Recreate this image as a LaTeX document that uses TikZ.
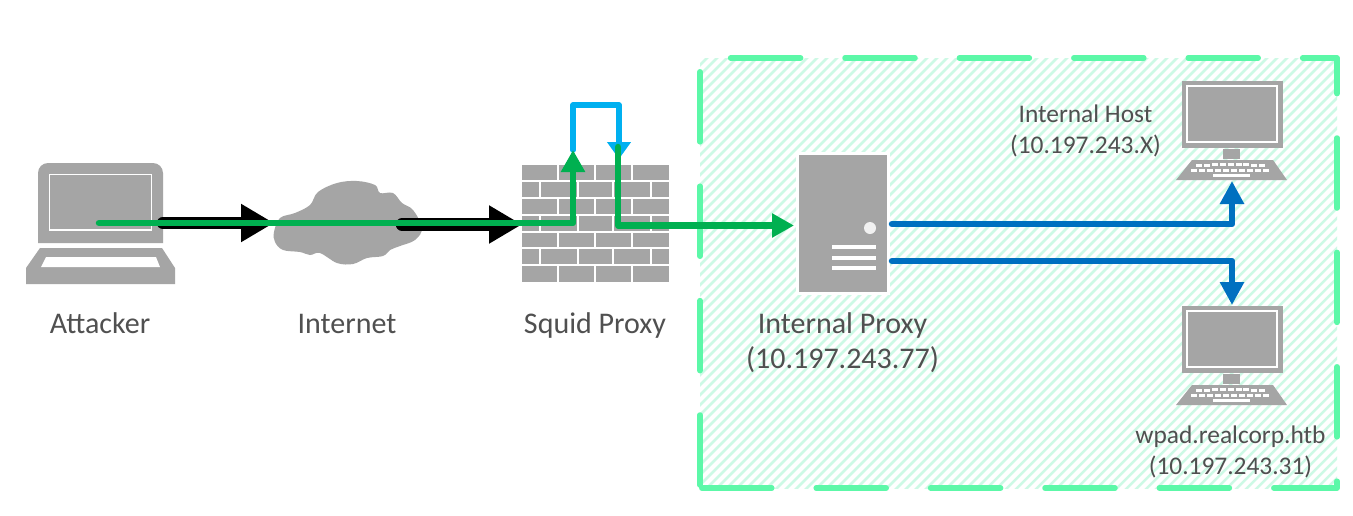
\documentclass[tikz,border=0pt]{standalone}
\usepackage{fontspec}
\setmainfont{Carlito}
\usetikzlibrary{arrows.meta}
\definecolor{icon}{HTML}{A5A5A5}
\definecolor{zonedash}{HTML}{5CF8A8}
\definecolor{zonehatch}{HTML}{CDF9E5}
\definecolor{pathgreen}{HTML}{00B050}
\definecolor{pathblue}{HTML}{0070C0}
\definecolor{pathsky}{HTML}{00B0F0}
\definecolor{labelgrey}{HTML}{505050}
\tikzset{
  x=1pt,y=-1pt,
  biglabel/.style={text=labelgrey,font=\fontsize{30pt}{35pt}\selectfont,inner sep=0pt,align=center},
  smalllabel/.style={text=labelgrey,font=\fontsize{25.4pt}{31pt}\selectfont,inner sep=0pt,align=center},
  whiteline/.style={draw=white,line width=1.5pt},
  blackarrow/.style={draw=black,line width=12.5pt,line cap=round,-{Triangle[length=33pt,width=36pt]}},
  greenarrow/.style={draw=pathgreen,line width=6.5pt,line cap=round,line join=round,-{Triangle[length=22pt,width=23pt]}},
  skyarrow/.style={draw=pathsky,line width=5.5pt,line cap=round,line join=round,-{Triangle[length=17pt,width=23pt]}},
  bluearrow/.style={draw=pathblue,line width=6.5pt,line cap=round,line join=round,-{Triangle[length=23pt,width=23pt]}},
}
\newcommand{\desktopicon}[1]{%
  \begin{scope}[yshift=#1]
    \fill[icon] (1182,81) rectangle (1283,148);
    \draw[white,line width=1.2pt] (1187,86) rectangle (1277,142);
    \fill[icon] (1223,149) rectangle (1240,159);
    \fill[icon] (1192,160) -- (1273,160) -- (1287,180) -- (1176,180) -- cycle;
    \foreach \k in {0,...,8}{
      \fill[white] ({1196+\k*7.9},{163.5+0.06*(\k-4)*(\k-4)-0.5}) rectangle +(6,3);
    }
    \foreach \k in {0,...,9}{
      \fill[white] ({1190.5+\k*8},{168.5+0.03*(\k-4.5)*(\k-4.5)}) rectangle +(6,3);
    }
    \fill[white] (1213,174) rectangle (1250,177);
  \end{scope}%
}
\begin{document}
\begin{tikzpicture}
\useasboundingbox (0,0) rectangle (1353,515);
\fill[white] (0,0) rectangle (1353,515);

% hatched internal zone
\begin{scope}
  \clip (700,58) rectangle (1337,488);
  \foreach \k in {0,...,112}{
    \draw[zonehatch,line width=2.5pt] ({225+10*\k},500) -- ({225+10*\k+460},40);
  }
\end{scope}
\draw[zonedash,line width=5.5pt,line cap=round,line join=round,dash pattern=on 70pt off 44.4pt,dash phase=111.4pt]
  (700,488) -- (700,58) -- (1337,58) -- (1337,488) -- (700,488);

% server
\fill[white] (796,152) rectangle (890,295);
\fill[icon] (799,155) rectangle (887,292);
\fill[white!85!icon] (870,228) circle[radius=6];
\foreach \y in {247,258,268}{\fill[white] (832,\y-2) rectangle (876,\y+2);}

% laptop
\fill[icon] (38,243) -- (38,175) [rounded corners=10pt] -- (38,163) -- (163,163) [sharp corners] -- (163,243) -- cycle;
\draw[white,line width=1.2pt] (49.5,174.5) rectangle (151.5,230);
\fill[icon] (40,248) -- (162,248) -- (175,268) -- (175,284) -- (26,284) -- (26,268) -- cycle;
\fill[white] (46,257) -- (156,257) -- (160,267) -- (41,267) -- cycle;

% cloud
\fill[icon] plot[smooth cycle,tension=0.6] coordinates {
  (274,232) (280,218) (295,213) (310,205) (318,192) (337,183) (357,181) (375,185)
  (380,193) (393,193) (402,203) (413,210) (422,228) (415,240) (400,246) (390,250)
  (383,256) (367,258) (353,264) (337,263) (320,253) (310,255) (300,252) (283,250) (275,242)};

% firewall
\fill[icon] (522,165) rectangle (669,282);
\foreach \y in {181,198,215,232,248,265}{\draw[whiteline] (522,\y) -- (669,\y);}
\foreach \a/\b in {165/181,198/215,232/248,265/282}{
  \foreach \x in {558,595,632}{\draw[whiteline] (\x,\a) -- (\x,\b);}
}
\foreach \a/\b in {181/198,215/232,248/265}{
  \foreach \x in {540,578,613,651}{\draw[whiteline] (\x,\a) -- (\x,\b);}
}

% desktops
\desktopicon{0pt}
\desktopicon{-225pt}

% connector anchors
\coordinate (attackerport) at (99,223);
\coordinate (attackerout) at (163,223);
\coordinate (cloudin) at (274,223);
\coordinate (cloudout) at (402,224.5);
\coordinate (wallin) at (522,224.5);
\coordinate (wallup) at (573,223);
\coordinate (walltop) at (573,150);
\coordinate (loopa) at (573,105);
\coordinate (loopb) at (619,105);
\coordinate (loopin) at (619,159);
\coordinate (wallre) at (618,147);
\coordinate (wallback) at (618,225.5);
\coordinate (serverin) at (794,225.5);
\coordinate (serverouta) at (892,224);
\coordinate (serveroutb) at (892,261);
\coordinate (hostbend) at (1232,224);
\coordinate (hostin) at (1232,181);
\coordinate (wpadbend) at (1232,261);
\coordinate (wpadin) at (1232,305);

% connectors
\draw[blackarrow] (attackerout) -- (cloudin);
\draw[blackarrow] (cloudout) -- (wallin);
\draw[skyarrow] (walltop) -- (loopa) -- (loopb) -- (loopin);
\draw[greenarrow] (attackerport) -- (wallup) -- (walltop);
\draw[greenarrow] (wallre) -- (wallback) -- (serverin);
\draw[bluearrow] (serverouta) -- (hostbend) -- (hostin);
\draw[bluearrow] (serveroutb) -- (wpadbend) -- (wpadin);

% labels
\node[biglabel,anchor=base] (attacker) at (100,333) {Attacker};
\node[biglabel,anchor=base] (internet) at (347,333) {Internet};
\node[biglabel,anchor=base] (squid) at (595,333) {Squid Proxy};
\node[biglabel] (proxy) at (842.5,343) {Internal Proxy\\(10.197.243.77)};
\node[smalllabel] (host) at (1085.5,130.5) {Internal Host\\(10.197.243.X)};
\node[smalllabel] (wpad) at (1230.5,452) {wpad.realcorp.htb\\(10.197.243.31)};
\end{tikzpicture}
\end{document}
